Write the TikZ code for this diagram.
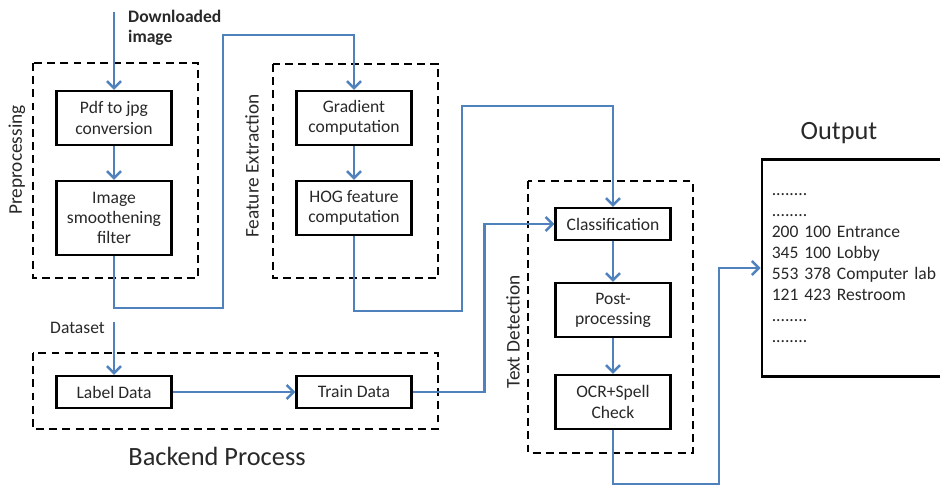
\documentclass[tikz,border=0pt]{standalone}
\usepackage{fontspec}
\setmainfont{Carlito}
\usetikzlibrary{arrows.meta, positioning}
\definecolor{flowblue}{RGB}{79,129,189}
\definecolor{inkgray}{RGB}{40,40,40}

\begin{document}
\begin{tikzpicture}[
    x=0.02cm, y=-0.02cm,
    % Styles
    stagebox/.style={
        draw, line width=1.3pt,
        minimum width=2.3cm, minimum height=1.08cm,
        align=center, text=inkgray,
        font=\fontsize{10}{11.5}\selectfont,
        inner sep=2pt
    },
    thinbox/.style={stagebox, minimum height=0.64cm},
    group/.style={
        draw, line width=1.4pt, dash pattern=on 4.5pt off 3pt
    },
    grouplabel/.style={
        rotate=90, text=inkgray, font=\fontsize{11}{12}\selectfont
    },
    flow/.style={
        flowblue, line width=1.4pt,
        -{Straight Barb[length=4pt, width=8pt]}
    }
]
\useasboundingbox (0,0) rectangle (940,487);

% Preprocessing
\draw[group] (33,63) rectangle (198,278);
\node[grouplabel] (prelbl) at (17,160) {Preprocessing};
\node[stagebox] (pdf) at (114,118) {Pdf to jpg\\conversion};
\node[stagebox, minimum height=1.48cm] (smooth) at (114,218) {Image\\smoothening\\filter};
\node[anchor=north west, align=left, font=\bfseries\fontsize{10}{11.5}\selectfont, text=inkgray] (dltxt) at (122,4) {Downloaded\\image};
\coordinate (dl) at (114,12);
\draw[flow] (dl) -- (pdf);
\draw[flow] (pdf) -- (smooth);

% Feature Extraction
\draw[group] (273,64) rectangle (438,278);
\node[grouplabel] (felbl) at (252,166) {Feature Extraction};
\node[stagebox] (grad) at (354,118) {Gradient\\computation};
\node[stagebox] (hog) at (354,208) {HOG feature\\computation};
\draw[flow] (smooth.south) -- ++(0,52) -| (223,35) -| (grad.north);
\draw[flow] (grad) -- (hog);

% Backend Process
\draw[group] (33,353) rectangle (438,429);
\node[thinbox] (label) at (114,392) {Label Data};
\node[thinbox] (train) at (354,392) {Train Data};
\node[anchor=east, text=inkgray, font=\fontsize{10}{11}\selectfont] (dstxt) at (111,328) {Dataset};
\node[text=inkgray, font=\fontsize{15}{18}\selectfont] (backend) at (217,456) {Backend Process};
\coordinate (ds) at (114,322);
\draw[flow] (ds) -- (label);
\draw[flow] (label) -- (train);

% Text Detection
\draw[group] (528,181) rectangle (693,453);
\node[grouplabel] (tdlbl) at (513,332) {Text Detection};
\node[thinbox] (class) at (613,224) {Classification};
\node[stagebox] (post) at (613,310) {Post-\\processing};
\node[stagebox] (ocr) at (613,402) {OCR+Spell\\Check};
\draw[flow] (hog.south) -- ++(0,75) -| (462,106) -| (class.north);
\draw[flow] (train.east) -- ++(72,0) |- (class.west);
\draw[flow] (class) -- (post);
\draw[flow] (post) -- (ocr);

% Output
\node[text=inkgray, font=\fontsize{15}{18}\selectfont] (outtitle) at (839,133) {Output};
\node[draw, line width=1.3pt, minimum height=4.34cm,
      text width=3.45cm, inner xsep=0.2cm, align=left, text=inkgray,
      font=\fontsize{10}{11.9}\selectfont] (out) at (858,268) {
    ........\\
    ........\\
    200 100 Entrance\\
    345 100 Lobby\\
    553 378 Computer lab\\
    121 423 Restroom\\
    ........\\
    ........
};
\draw[flow] (ocr.south) -- ++(0,54) -- ++(106,0) |- (out.west);

\end{tikzpicture}
\end{document}
